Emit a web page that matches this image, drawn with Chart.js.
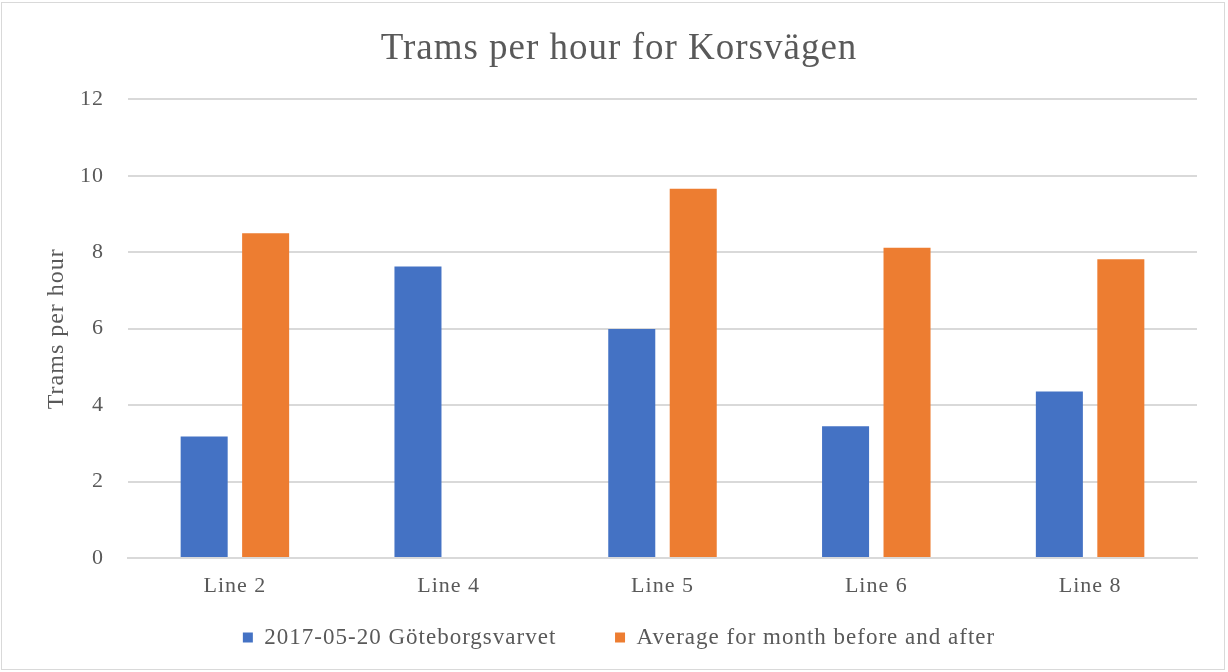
<!DOCTYPE html>
<html>
<head>
<meta charset="utf-8">
<script src="https://cdn.jsdelivr.net/npm/chart.js@4"></script>
<style>
  body { margin: 0; background: #fff; }
  #wrap { position: absolute; left: 0; top: 0; width: 1228px; height: 672px; }
  #frame { position: absolute; left: 1px; top: 2px; width: 1224px; height: 668px; border: 1px solid #d9d9d9; box-sizing: border-box; pointer-events: none; }
</style>
</head>
<body>
<div id="wrap"><canvas id="chart"></canvas></div>
<div id="frame"></div>
<script>
const categories = ["Line 2", "Line 4", "Line 5", "Line 6", "Line 8"];
const raceDay = [3.18, 7.63, 5.99, 3.45, 4.36];
const monthAverage = [8.5, null, 9.66, 8.12, 7.82];
const yTicks = [0, 2, 4, 6, 8, 10, 12];

const serif = "'Liberation Serif', 'Times New Roman', serif";
const textGray = "#595959";

// the original's text is spread out a little, so widen all canvas text
const letterSpacing = {
  id: 'letterSpacing',
  beforeLayout(chart) { chart.ctx.letterSpacing = '1px'; },
  beforeDraw(chart) { chart.ctx.letterSpacing = '1px'; }
};

new Chart(document.getElementById("chart"), {
  type: 'bar',
  data: {
    labels: categories,
    datasets: [
      {
        label: '2017-05-20 Göteborgsvarvet',
        data: raceDay,
        backgroundColor: '#4472c4'
      },
      {
        label: 'Average for month before and after',
        data: monthAverage,
        backgroundColor: '#ed7d31'
      }
    ]
  },
  plugins: [letterSpacing],
  options: {
    responsive: true,
    maintainAspectRatio: false,
    animation: false,
    categoryPercentage: 0.575,
    barPercentage: 0.765,
    layout: { padding: { left: 41, right: 31, top: 8, bottom: 13 } },
    plugins: {
      title: {
        display: true,
        text: 'Trams per hour for Korsvägen',
        color: textGray,
        font: { family: serif, size: 37, weight: 'normal' },
        padding: { top: 19, bottom: 28 }
      },
      legend: {
        position: 'bottom',
        labels: {
          color: textGray,
          font: { family: serif, size: 23 },
          boxWidth: 10,
          boxHeight: 10,
          padding: 25,
          generateLabels: chart => {
            const items = Chart.defaults.plugins.legend.labels.generateLabels(chart);
            // extra room between the two entries, as in the original
            items[0].text = items[0].text + '     ';
            return items;
          }
        }
      },
      tooltip: { enabled: false }
    },
    scales: {
      x: {
        afterFit: scale => { scale.height = 43; },
        grid: { display: false, drawTicks: false },
        border: { color: '#d9d9d9', width: 2 },
        ticks: {
          color: textGray,
          font: { family: serif, size: 22 },
          padding: 15
        }
      },
      y: {
        min: 0,
        max: 12,
        afterBuildTicks: scale => { scale.ticks = yTicks.map(v => ({ value: v })); },
        afterFit: scale => { scale.width = 87; },
        grid: { color: '#d9d9d9', lineWidth: 2, drawTicks: false },
        border: { display: false },
        ticks: {
          color: textGray,
          font: { family: serif, size: 22 },
          padding: 24
        },
        title: {
          display: true,
          text: 'Trams per hour',
          color: textGray,
          font: { family: serif, size: 24 },
          padding: { top: 1, bottom: 0 }
        }
      }
    }
  }
});
</script>
</body>
</html>
